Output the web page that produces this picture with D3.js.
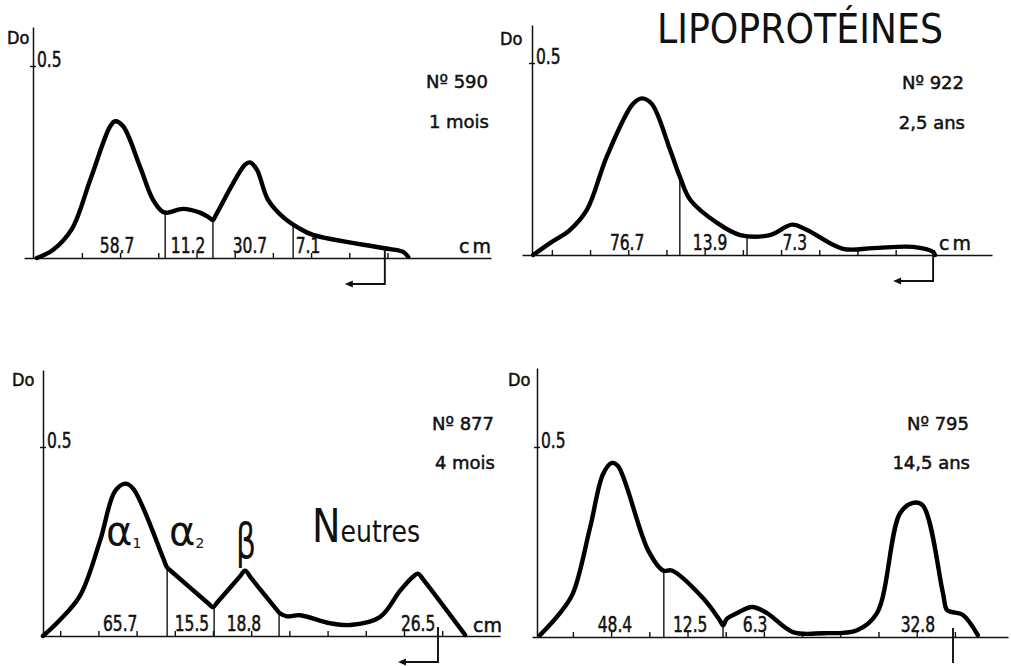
<!DOCTYPE html>
<html>
<head>
<meta charset="utf-8">
<script src="https://cdn.jsdelivr.net/npm/d3@7"></script>
<style>
  body { margin: 0; background: #fff; }
  svg { display: block; background: #fff; }
  text { font-family: "DejaVu Sans", sans-serif; fill: #111; }
  .narrow { font-family: "DejaVu Sans Condensed", sans-serif; }
  .inked { stroke: #111; stroke-width: 0.5px; }
</style>
</head>
<body>
<svg id="chart" width="1011" height="666"></svg>
<script>
// ---- values ----
const sampleIds = ['Nº 590', 'Nº 922', 'Nº 877', 'Nº 795'];
const sampleAges = ['1 mois', '2,5 ans', '4 mois', '14,5 ans'];

// trace 1 : migration (cm) / optical density (Do)
const p1Cm = [0.10, 0.52, 1.02, 1.50, 2.02, 2.15, 2.36, 2.80, 3.14, 3.40, 3.51, 3.93, 4.37, 4.60, 4.71, 4.80, 5.55, 5.68, 5.86, 6.15, 6.54, 6.94, 7.33, 9.16, 9.69, 9.82];
const p1Do = [0.000, 0.021, 0.076, 0.204, 0.343, 0.356, 0.343, 0.238, 0.152, 0.120, 0.118, 0.128, 0.118, 0.106, 0.099, 0.114, 0.243, 0.249, 0.230, 0.152, 0.107, 0.079, 0.060, 0.026, 0.016, 0.003];
const p1Cuts = [3.46, 4.71, 6.81];
const p1Pct = ['58.7', '11.2', '30.7', '7.1'];
const p1PctAt = [2.20, 4.06, 5.68, 7.20];
const p1Start = 9.21;
const p1Tick0 = 1.28;

// trace 2
const p2Cm = [0.03, 0.47, 0.99, 1.44, 1.96, 2.64, 2.88, 3.14, 3.61, 3.87, 4.14, 4.84, 5.45, 6.23, 6.81, 7.20, 8.14, 8.93, 9.97, 10.50, 10.55];
const p2Do = [0.000, 0.031, 0.065, 0.118, 0.257, 0.393, 0.408, 0.393, 0.275, 0.204, 0.144, 0.084, 0.052, 0.052, 0.079, 0.065, 0.016, 0.018, 0.021, 0.008, 0.000];
const p2Cuts = [3.87, 5.63];
const p2Pct = ['76.7', '13.9', '7.3'];
const p2PctAt = [2.49, 4.66, 6.88];
const p2Start = 10.50;
const p2Tick0 = 0.52;

// trace 3
const p3Cm = [0.00, 0.39, 0.97, 1.49, 1.88, 2.15, 2.36, 3.15, 3.25, 3.35, 4.33, 4.45, 4.57, 5.15, 5.29, 5.45, 6.10, 6.20, 6.39, 6.73, 7.51, 8.04, 8.82, 9.35, 9.70, 9.82, 9.95, 11.05];
const p3Do = [0.000, 0.037, 0.107, 0.251, 0.382, 0.403, 0.390, 0.205, 0.181, 0.172, 0.086, 0.076, 0.090, 0.157, 0.173, 0.153, 0.072, 0.060, 0.052, 0.055, 0.034, 0.029, 0.050, 0.120, 0.158, 0.165, 0.150, 0.003];
const p3Cuts = [3.25, 4.48, 6.18];
const p3Pct = ['65.7', '15.5', '18.8', '26.5'];
const p3PctAt = [2.02, 3.90, 5.26, 9.82];
const p3Start = 10.34;
const p3Tick0 = 0.45;

// trace 4
const p4Cm = [0.08, 0.60, 0.94, 1.39, 1.73, 1.96, 2.12, 2.91, 3.30, 3.53, 4.35, 4.78, 4.87, 4.97, 5.24, 5.63, 6.02, 6.70, 7.49, 8.38, 8.90, 9.50, 9.84, 10.10, 10.62, 10.73, 10.85, 11.15, 11.54];
const p4Do = [0.005, 0.063, 0.115, 0.288, 0.429, 0.458, 0.450, 0.228, 0.175, 0.175, 0.102, 0.045, 0.031, 0.048, 0.063, 0.079, 0.063, 0.013, 0.010, 0.018, 0.063, 0.325, 0.353, 0.346, 0.119, 0.071, 0.066, 0.058, 0.005];
const p4Cuts = [3.32, 4.87];
const p4Pct = ['48.4', '12.5', '6.3', '32.8'];
const p4PctAt = [2.04, 4.01, 5.71, 9.97];
const p4Start = 10.89;
const p4Tick0 = 0.94;

const traces = [
  { cm: p1Cm, dos: p1Do, cuts: p1Cuts, pct: p1Pct, pctAt: p1PctAt, start: p1Start, tick0: p1Tick0, nTicks: 9 },
  { cm: p2Cm, dos: p2Do, cuts: p2Cuts, pct: p2Pct, pctAt: p2PctAt, start: p2Start, tick0: p2Tick0, nTicks: 11 },
  { cm: p3Cm, dos: p3Do, cuts: p3Cuts, pct: p3Pct, pctAt: p3PctAt, start: p3Start, tick0: p3Tick0, nTicks: 11 },
  { cm: p4Cm, dos: p4Do, cuts: p4Cuts, pct: p4Pct, pctAt: p4PctAt, start: p4Start, tick0: p4Tick0, nTicks: 11 },
];

// ---- layout (pixels) ----
const pxPerCm = 38.2;
const squeeze = 0.82; // the lettering of the original is narrower than any installed face
const layout = [
  { ox: 33, oy: 258, y05: 66, top: 27, left: 24, right: 491, doX: 7, doY: 44, idX: 488, idY: 88, ageY: 128, cmX: 459, cmY: 253, head: true },
  { ox: 532, oy: 255, y05: 63, top: 25, left: 522, right: 992, doX: 500, doY: 45, idX: 964, idY: 89, ageY: 129, cmX: 939, cmY: 250, head: true },
  { ox: 43, oy: 636, y05: 447, top: 370, left: 42, right: 500, doX: 12, doY: 386, idX: 494, idY: 430, ageY: 469, cmX: 473, cmY: 632, head: true },
  { ox: 537, oy: 637, y05: 447, top: 368, left: 532, right: 1008, doX: 508, doY: 386, idX: 969, idY: 430, ageY: 469, cmX: null, cmY: null, head: false },
];

const svg = d3.select('#chart');

// linear read of the trace at a given distance, used to close the divider lines
const doAt = (xs, ys, v) => {
  const i = d3.bisectLeft(xs, v);
  if (i <= 0) return ys[0];
  if (i >= xs.length) return ys[ys.length - 1];
  const t = (v - xs[i - 1]) / (xs[i] - xs[i - 1]);
  return ys[i - 1] + t * (ys[i] - ys[i - 1]);
};

/**
 * Draws one densitogram: axes, trace, fraction dividers, percentages and labels
 * @param {*} d trace data
 * @param {*} i index of the panel
 */
const drawPanel = (d, i) => {
  const L = layout[i];
  const x = d3.scaleLinear().domain([0, 1]).range([L.ox, L.ox + pxPerCm]);
  const y = d3.scaleLinear().domain([0, 0.5]).range([L.oy, L.y05]);
  const g = svg.append('g').classed('panel', true);

  // x axis, ticks pointing upward, no labels
  const xAxisScale = x.copy().domain([x.invert(L.left), x.invert(L.right)]).range([L.left, L.right]);
  g.append('g')
    .attr('transform', `translate(0,${L.oy})`)
    .call(d3.axisTop(xAxisScale)
      .tickValues(d3.range(d.nTicks).map(k => d.tick0 + k))
      .tickSize(5)
      .tickSizeOuter(0)
      .tickFormat(''))
    .call(a => a.select('.domain').attr('stroke', '#111').attr('stroke-width', 1.7))
    .call(a => a.selectAll('.tick line').attr('stroke', '#111').attr('stroke-width', 1.4));

  // y axis with the single 0.5 mark
  const yAxisScale = y.copy().domain([0, y.invert(L.top)]).range([L.oy, L.top]);
  g.append('g')
    .attr('transform', `translate(${L.ox},0)`)
    .call(d3.axisRight(yAxisScale)
      .tickValues([0.5])
      .tickSize(3)
      .tickSizeOuter(0)
      .tickFormat(d3.format('.1f')))
    .attr('font-family', null)
    .attr('font-size', null)
    .call(a => a.select('.domain').attr('stroke', '#111').attr('stroke-width', 1.5))
    .call(a => a.selectAll('.tick line').attr('x1', -3).attr('stroke', '#111').attr('stroke-width', 1.4))
    .call(a => a.selectAll('.tick text')
      .attr('x', null).attr('dy', null)
      .attr('transform', `translate(4,0) scale(${squeeze},1)`)
      .attr('class', 'narrow inked')
      .style('font-size', '21px').attr('fill', '#111'));

  g.append('text')
    .attr('class', 'narrow inked')
    .attr('x', L.doX)
    .attr('y', L.doY)
    .style('font-size', '18px')
    .text('Do');

  // fraction dividers (under the trace)
  g.selectAll('line.cut')
    .data(d.cuts)
    .join('line')
    .classed('cut', true)
    .attr('x1', c => x(c))
    .attr('x2', c => x(c))
    .attr('y1', L.oy)
    .attr('y2', c => y(doAt(d.cm, d.dos, c)))
    .attr('stroke', '#111')
    .attr('stroke-width', 1.4);

  // the trace itself
  const line = d3.line()
    .x(j => x(d.cm[j]))
    .y(j => y(d.dos[j]))
    .curve(d3.curveCatmullRom.alpha(0.5));
  g.append('path')
    .attr('d', line(d3.range(d.cm.length)))
    .attr('fill', 'none')
    .attr('stroke', '#000')
    .attr('stroke-width', 4.4)
    .attr('stroke-linejoin', 'round')
    .attr('stroke-linecap', 'round');

  // percentages of each fraction
  g.selectAll('text.pct')
    .data(d.pct)
    .join('text')
    .attr('class', 'pct narrow inked')
    .attr('transform', (p, k) => `translate(${x(d.pctAt[k])},${L.oy - 5}) scale(${squeeze},1)`)
    .attr('text-anchor', 'middle')
    .style('font-size', '21px')
    .text(p => p);

  // application point of the sample
  const ax = x(d.start);
  const aTop = Math.max(y(doAt(d.cm, d.dos, d.start)), L.oy - 9);
  const aBot = L.oy + 26;
  g.append('path')
    .attr('d', L.head
      ? `M${ax},${aTop}V${aBot}H${ax - 34}`
      : `M${ax},${aTop}V${aBot}`)
    .attr('fill', 'none')
    .attr('stroke', '#111')
    .attr('stroke-width', 1.9);
  if (L.head) {
    g.append('path')
      .attr('d', `M${ax - 40},${aBot}l8,-3.5v7z`)
      .attr('fill', '#111');
  }

  if (L.cmX !== null) {
    g.append('text')
      .attr('class', 'inked')
      .attr('x', L.cmX)
      .attr('y', L.cmY)
      .style('font-size', '19px')
      .style('letter-spacing', i < 2 ? '3px' : '0px')
      .text('cm');
  }

  g.append('text')
    .attr('class', 'inked')
    .attr('x', L.idX)
    .attr('y', L.idY)
    .attr('text-anchor', 'end')
    .style('font-size', '18px')
    .text(sampleIds[i]);
  g.append('text')
    .attr('class', 'inked')
    .attr('x', L.idX + 1)
    .attr('y', L.ageY)
    .attr('text-anchor', 'end')
    .style('font-size', '18px')
    .text(sampleAges[i]);
};

traces.forEach(drawPanel);

// title
svg.append('text')
  .attr('x', 657)
  .attr('y', 43)
  .attr('textLength', 286)
  .attr('lengthAdjust', 'spacingAndGlyphs')
  .style('font-size', '41px')
  .style('font-family', '"DejaVu Sans Condensed", sans-serif')
  .text('LIPOPROTÉINES');

// fraction names written on the third trace
const names = svg.append('g').classed('names', true);
const alpha1 = names.append('text').attr('x', 106).attr('y', 545).style('font-size', '40px');
alpha1.append('tspan').text('α');
alpha1.append('tspan').attr('dy', 3).style('font-size', '14px').text('1');
const alpha2 = names.append('text').attr('x', 169).attr('y', 545).style('font-size', '40px');
alpha2.append('tspan').text('α');
alpha2.append('tspan').attr('dy', 3).style('font-size', '14px').text('2');
names.append('text')
  .attr('x', 236).attr('y', 558)
  .attr('textLength', 20).attr('lengthAdjust', 'spacingAndGlyphs')
  .style('font-size', '48px')
  .text('β');
const neutres = names.append('text')
  .attr('x', 312).attr('y', 542)
  .attr('textLength', 108).attr('lengthAdjust', 'spacingAndGlyphs')
  .style('font-family', '"DejaVu Sans Condensed", sans-serif');
neutres.append('tspan').style('font-size', '47px').style('font-weight', '300').text('N');
neutres.append('tspan').style('font-size', '31px').text('eutres');
</script>
</body>
</html>
